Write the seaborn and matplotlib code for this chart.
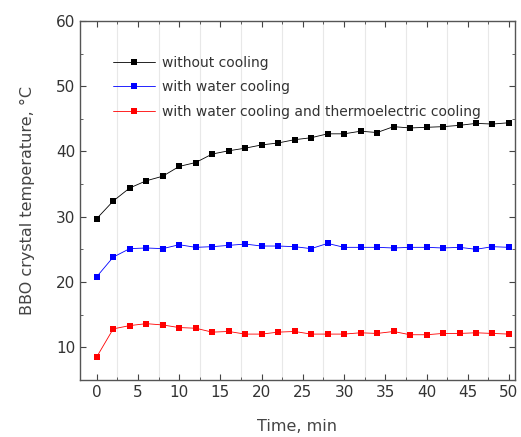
import numpy as np
import pandas as pd
import matplotlib
matplotlib.use('Agg')
import matplotlib.pyplot as plt
import seaborn as sns
from matplotlib.ticker import MultipleLocator

time_min = list(range(0, 51, 2))

without_cooling = [29.7, 32.4, 34.4, 35.5, 36.2, 37.7, 38.3, 39.6, 40.1, 40.5,
                   41.0, 41.3, 41.8, 42.1, 42.7, 42.7, 43.1, 42.9, 43.8, 43.6,
                   43.7, 43.8, 44.0, 44.3, 44.2, 44.4]
water_cooling = [20.8, 23.8, 25.1, 25.2, 25.1, 25.7, 25.3, 25.4, 25.6, 25.8,
                 25.5, 25.5, 25.4, 25.1, 25.9, 25.3, 25.3, 25.3, 25.2, 25.3,
                 25.3, 25.2, 25.3, 25.0, 25.4, 25.3]
water_te_cooling = [8.5, 12.8, 13.3, 13.6, 13.4, 13.0, 12.9, 12.3, 12.4, 12.0,
                    12.0, 12.3, 12.4, 12.0, 12.0, 12.0, 12.2, 12.1, 12.4, 11.9,
                    11.9, 12.1, 12.1, 12.2, 12.1, 12.0]

labels = ['without cooling', 'with water cooling',
          'with water cooling and thermoelectric cooling']
colors = ['black', 'blue', 'red']

df = pd.concat([
    pd.DataFrame({'time': time_min, 'temp': vals, 'series': lab})
    for vals, lab in zip([without_cooling, water_cooling, water_te_cooling], labels)
])

sns.set_style('ticks')
plt.rcParams['font.family'] = ['DejaVu Sans']

fig = plt.figure(figsize=(5.21, 4.37), dpi=100)
ax = fig.add_axes([0.154, 0.131, 0.834, 0.821])

# faint vertical grid
for xv in np.arange(2.5, 50, 5):
    ax.axvline(xv, color='#e8e8e8', lw=0.8, zorder=0)

sns.lineplot(data=df, x='time', y='temp', hue='series', hue_order=labels,
             palette=colors, marker='s', markersize=4, markeredgewidth=0,
             linewidth=0.6, ax=ax)

ax.set_xlim(-2, 50.7)
ax.set_ylim(5, 60)
ax.xaxis.set_major_locator(MultipleLocator(5))
ax.xaxis.set_minor_locator(MultipleLocator(2.5))
ax.yaxis.set_major_locator(MultipleLocator(10))
ax.yaxis.set_minor_locator(MultipleLocator(5))
ax.tick_params(which='both', direction='in', top=True, right=True,
               labelsize=11, color='#444444', labelcolor='#333333')
ax.tick_params(which='major', length=4)
ax.tick_params(which='minor', length=2)
for s in ax.spines.values():
    s.set_color('#555555')
    s.set_linewidth(1.0)

ax.set_xlabel('Time, min', fontsize=11.5, color='#444444', labelpad=14)
ax.set_ylabel('BBO crystal temperature, °C', fontsize=11.5, color='#444444',
              labelpad=15)

leg = ax.legend(loc='upper left', bbox_to_anchor=(0.047, 0.938), frameon=False,
                fontsize=10, handlelength=3, handletextpad=0.5, labelspacing=0.75)
for t in leg.get_texts():
    t.set_color('#333333')

fig.savefig('out.png', dpi=100)
